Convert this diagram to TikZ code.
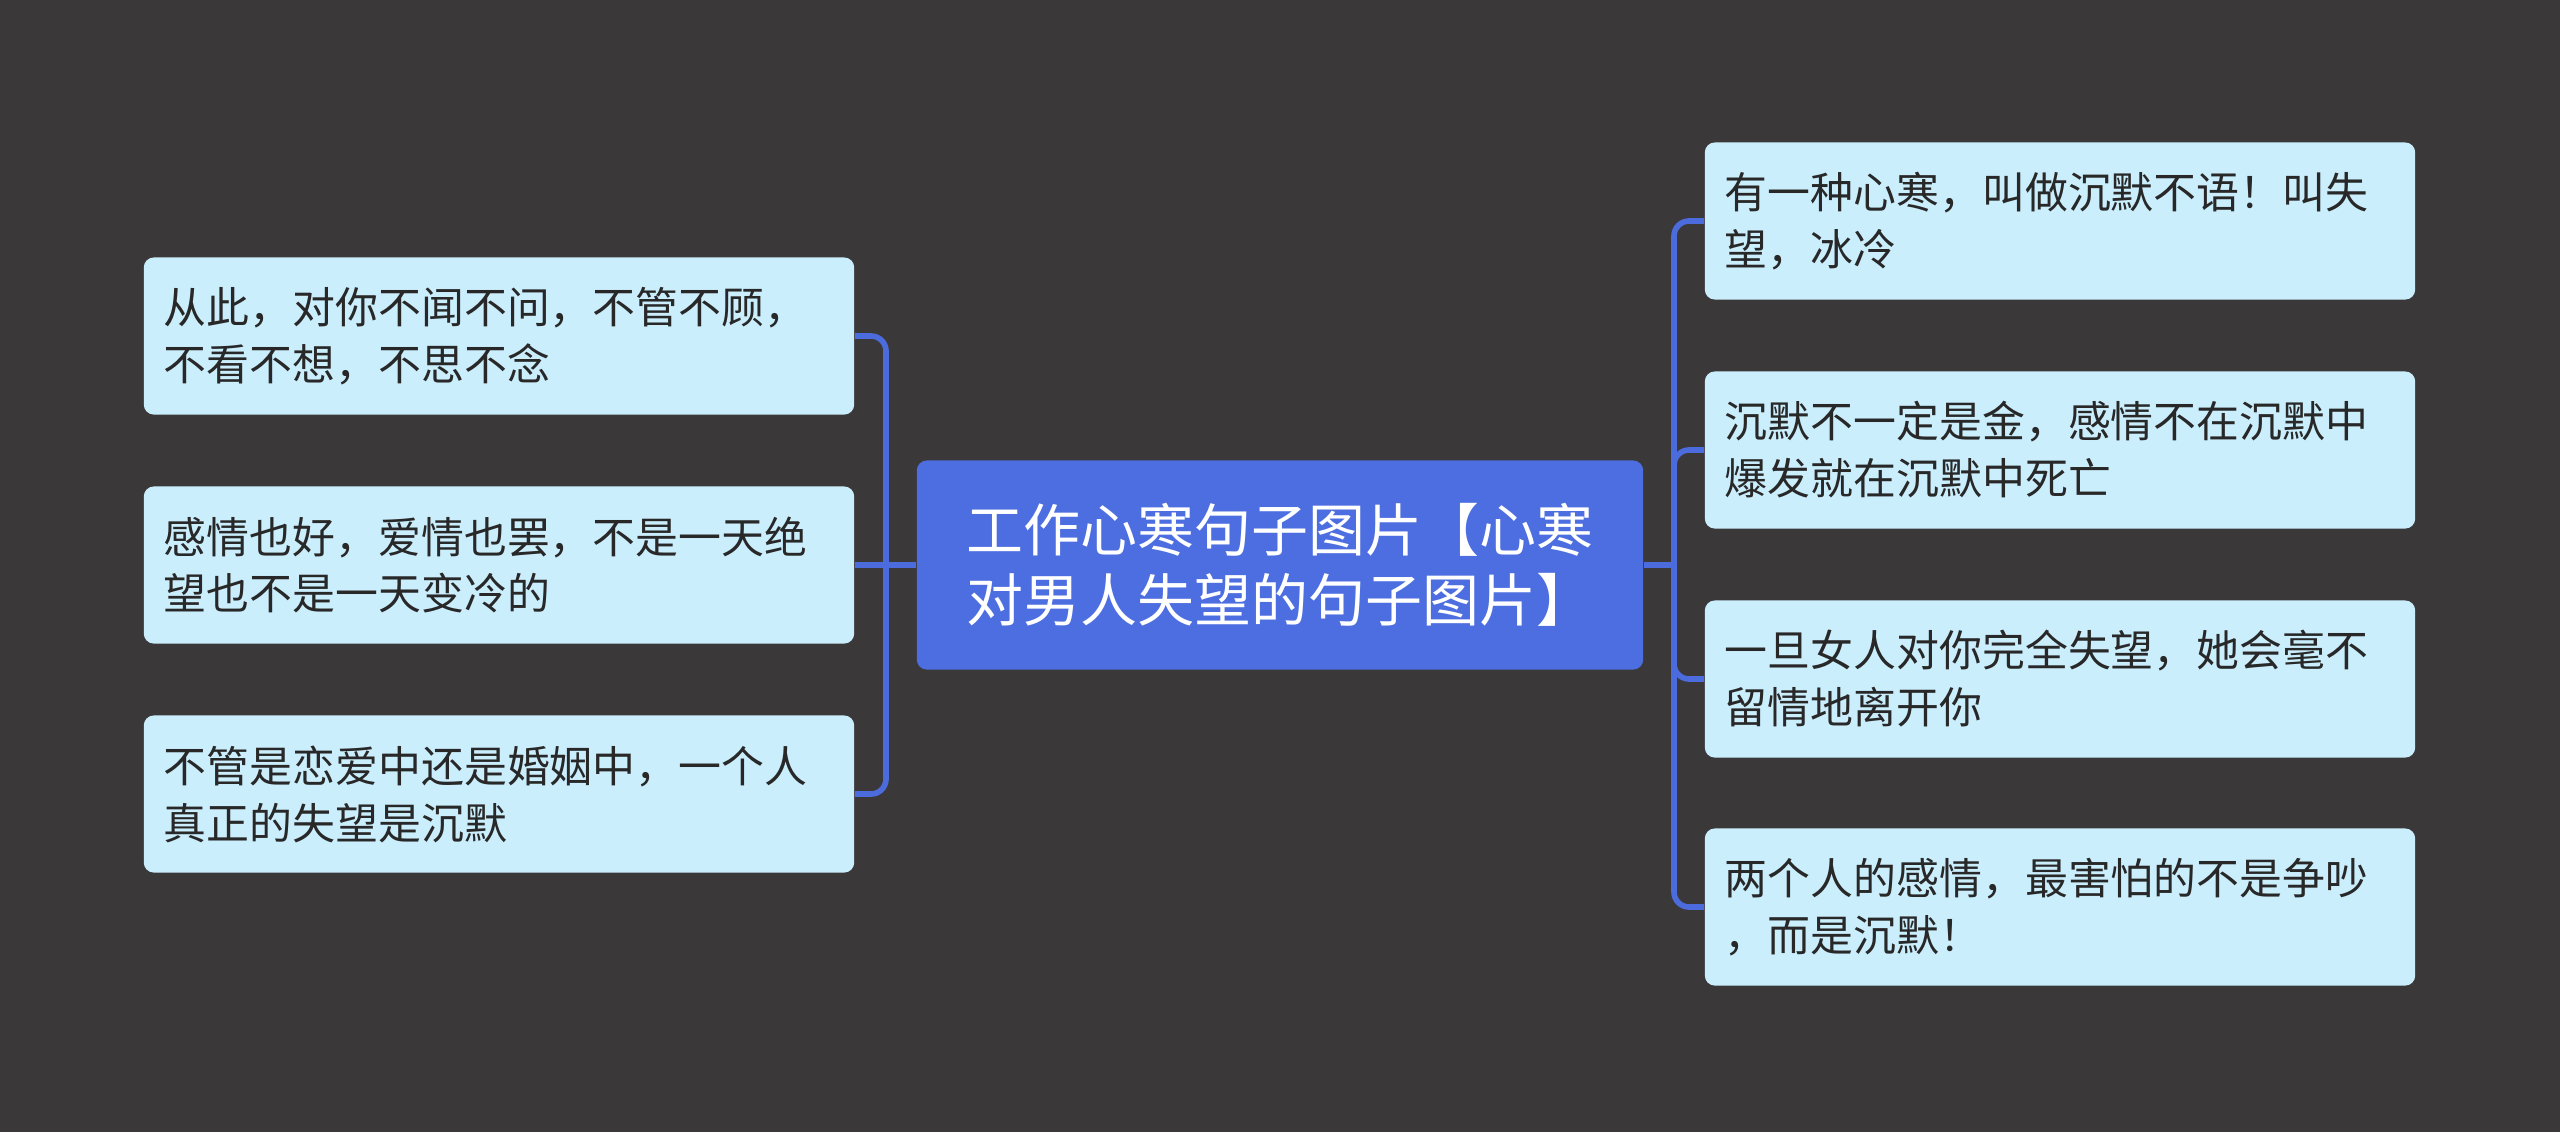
\documentclass[tikz,border=0pt]{standalone}
\usepackage{fontspec}
\setmainfont{Noto Sans CJK SC}
\definecolor{bgdark}{RGB}{58,56,57}
\definecolor{leaffill}{RGB}{203,238,253}
\definecolor{rootfill}{RGB}{77,110,224}
\definecolor{linkblue}{RGB}{76,108,222}
\definecolor{leaftext}{RGB}{40,40,40}
\begin{document}
\begin{tikzpicture}[x=0.01cm, y=-0.01cm,
  leaf/.style={rectangle, rounded corners=0.1cm, fill=leaffill, text=leaftext,
    minimum width=7.1cm, minimum height=1.57cm, inner xsep=0.2cm,
    text width=6.7cm, align=left, font=\fontsize{12.2pt}{16.2pt}\selectfont},
  root/.style={rectangle, rounded corners=0.1cm, fill=rootfill, text=white,
    minimum width=7.26cm, minimum height=2.09cm, align=center,
    font=\fontsize{16.2pt}{19.9pt}\selectfont},
  link/.style={draw=linkblue, line width=1.6pt, rounded corners=0.15cm}]
\fill[bgdark] (0,0) rectangle (2560,1132);

\node[root] (root) at (1280,565) {工作心寒句子图片【心寒\\对男人失望的句子图片】};

\node[leaf] (l1) at (499,336) {从此，对你不闻不问，不管不顾，\\不看不想，不思不念};
\node[leaf] (l2) at (499,565) {感情也好，爱情也罢，不是一天绝\\望也不是一天变冷的};
\node[leaf] (l3) at (499,794) {不管是恋爱中还是婚姻中，一个人\\真正的失望是沉默};

\node[leaf] (r1) at (2060,221) {有一种心寒，叫做沉默不语！叫失\\望，冰冷};
\node[leaf] (r2) at (2060,450) {沉默不一定是金，感情不在沉默中\\爆发就在沉默中死亡};
\node[leaf] (r3) at (2060,679) {一旦女人对你完全失望，她会毫不\\留情地离开你};
\node[leaf] (r4) at (2060,907) {两个人的感情，最害怕的不是争吵\\，而是沉默！};

\coordinate (lj) at (886,565);
\coordinate (rj) at (1674,565);

\draw[link] (root.west) -- (l2.east);
\draw[link] (lj) |- (l1.east);
\draw[link] (lj) |- (l3.east);

\draw[link] (root.east) -- (rj);
\draw[link] (rj) |- (r1.west);
\draw[link] (rj) |- (r2.west);
\draw[link] (rj) |- (r3.west);
\draw[link] (rj) |- (r4.west);
\end{tikzpicture}
\end{document}
